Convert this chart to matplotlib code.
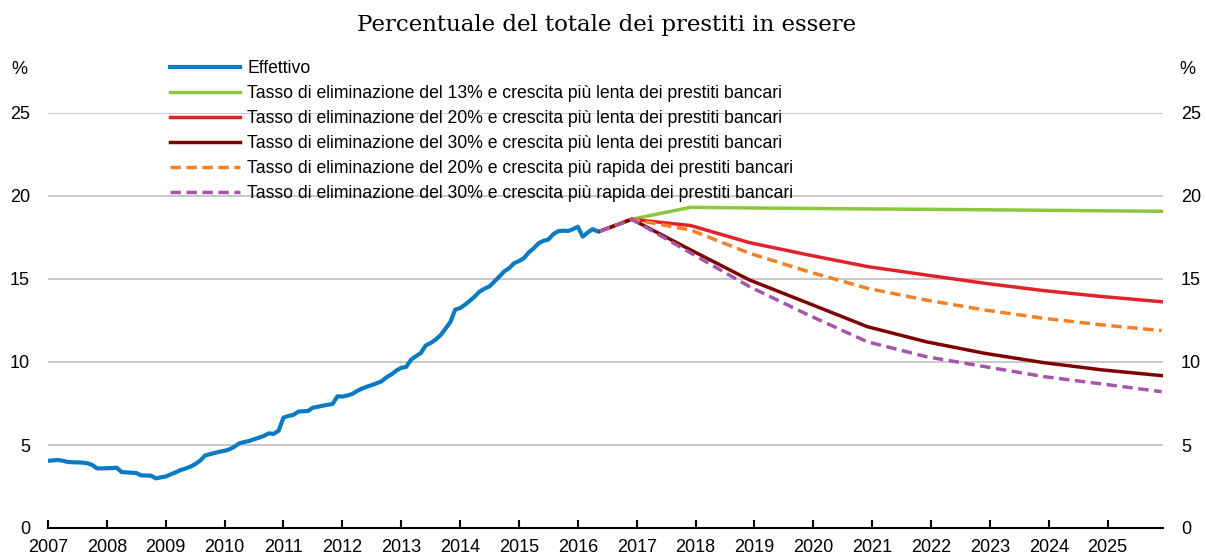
import matplotlib
matplotlib.use("Agg")
import matplotlib.pyplot as plt
import numpy as np

# ---------------- data ----------------
actual_start_year = 2007
actual_values = [
    # 2007
    4.05, 4.07, 4.10, 4.05, 3.98, 3.96, 3.95, 3.94, 3.90, 3.80, 3.59, 3.59,
    # 2008
    3.60, 3.61, 3.63, 3.37, 3.35, 3.33, 3.31, 3.17, 3.16, 3.15, 2.99, 3.05,
    # 2009
    3.10, 3.23, 3.35, 3.49, 3.58, 3.69, 3.85, 4.05, 4.36, 4.45, 4.52, 4.60,
    # 2010
    4.65, 4.74, 4.90, 5.10, 5.18, 5.24, 5.35, 5.44, 5.55, 5.70, 5.67, 5.86,
    # 2011
    6.65, 6.75, 6.81, 7.01, 7.03, 7.05, 7.25, 7.30, 7.37, 7.42, 7.47, 7.93,
    # 2012
    7.92, 7.98, 8.07, 8.25, 8.40, 8.51, 8.61, 8.72, 8.84, 9.08, 9.25, 9.48,
    # 2013
    9.65, 9.70, 10.14, 10.35, 10.54, 11.00, 11.14, 11.35, 11.61, 12.00, 12.40, 13.15,
    # 2014
    13.25, 13.45, 13.69, 13.95, 14.25, 14.42, 14.56, 14.85, 15.15, 15.46, 15.65, 15.95,
    # 2015
    16.08, 16.25, 16.60, 16.85, 17.15, 17.30, 17.38, 17.70, 17.88, 17.91, 17.89, 18.00,
    # 2016
    18.15, 17.55, 17.80, 18.00, 17.88,
]

proj_years = [2016 + 4.5/12, 2016 + 11/12] + [2017 + 11/12 + k for k in range(9)]
slow13 = [17.88, 18.60, 19.32, 19.28, 19.25, 19.22, 19.20, 19.17, 19.14, 19.11, 19.08]
slow20 = [17.88, 18.60, 18.22, 17.19, 16.45, 15.75, 15.24, 14.74, 14.30, 13.94, 13.63]
slow30 = [17.88, 18.60, 16.75, 14.94, 13.54, 12.13, 11.22, 10.52, 9.96, 9.52, 9.18]
fast20 = [17.88, 18.60, 17.95, 16.55, 15.44, 14.44, 13.73, 13.13, 12.63, 12.23, 11.89]
fast30 = [17.88, 18.60, 16.57, 14.54, 12.83, 11.22, 10.32, 9.72, 9.12, 8.67, 8.21]

labels = [
    "Effettivo",
    "Tasso di eliminazione del 13% e crescita più lenta dei prestiti bancari",
    "Tasso di eliminazione del 20% e crescita più lenta dei prestiti bancari",
    "Tasso di eliminazione del 30% e crescita più lenta dei prestiti bancari",
    "Tasso di eliminazione del 20% e crescita più rapida dei prestiti bancari",
    "Tasso di eliminazione del 30% e crescita più rapida dei prestiti bancari",
]
title = "Percentuale del totale dei prestiti in essere"
year_ticks = list(range(2007, 2026))
y_ticks = [0, 5, 10, 15, 20, 25]

# ---------------- figure ----------------
W, H = 1206, 556
fig = plt.figure(figsize=(W / 100, H / 100), dpi=100)
plt.rcParams['font.family'] = ['Liberation Sans', 'DejaVu Sans']

ax = fig.add_axes([48 / W, 1 - 528 / H, (1163 - 48) / W, (528 - 113) / H])
ax.set_xlim(2007, 2025.94)
ax.set_ylim(0, 25)

actual_years = actual_start_year + np.arange(len(actual_values)) / 12.0

blue = "#0a7bc2"
green = "#8dc63f"
red = "#e0232b"
dred = "#7f0000"
orange = "#f58025"
purple = "#a656a8"

h0, = ax.plot(actual_years, actual_values, color=blue, lw=3.0, zorder=5)
h1, = ax.plot(proj_years, slow13, color=green, lw=2.5, zorder=3)
h2, = ax.plot(proj_years, slow20, color=red, lw=2.5, zorder=3)
h3, = ax.plot(proj_years, slow30, color=dred, lw=2.5, zorder=3)
h4, = ax.plot(proj_years, fast20, color=orange, lw=2.5, ls=(0, (3, 1.6)), zorder=4)
h5, = ax.plot(proj_years, fast30, color=purple, lw=2.5, ls=(0, (3, 1.6)), zorder=4)

# grid
for yv in y_ticks[1:]:
    ax.axhline(yv, color="#c8c8c8", lw=1.4, zorder=1)

for s in ["top", "left", "right"]:
    ax.spines[s].set_visible(False)
ax.spines["bottom"].set_color("black")
ax.spines["bottom"].set_linewidth(1.5)
ax.spines["bottom"].set_zorder(6)

ax.set_xticks(year_ticks)
ax.set_xticklabels([str(y) for y in year_ticks], fontsize=13)
ax.tick_params(axis="x", direction="in", length=6, width=1.5, pad=8)

ax.set_yticks(y_ticks)
ax.set_yticklabels([str(v) for v in y_ticks], fontsize=13)
ax.tick_params(axis="y", length=0, pad=13, labelleft=True, labelright=True)

# % markers
fig.text(19 / W, 1 - 70 / H, "%", fontsize=13, ha="center", va="center")
fig.text(1187 / W, 1 - 70 / H, "%", fontsize=13, ha="center", va="center")

# title
fig.text(607 / W, 1 - 25 / H, title, fontsize=16.5, ha="center", va="center",
         family=["DejaVu Serif"])

# legend
leg = fig.legend([h0, h1, h2, h3, h4, h5], labels, loc="upper left",
                 bbox_to_anchor=(170 / W, 1 - 60 / H), bbox_transform=fig.transFigure,
                 frameon=False, fontsize=12.7, handlelength=3.95, handletextpad=0.42,
                 labelspacing=0.45, borderaxespad=0, borderpad=0)

fig.savefig("out.png", dpi=100)
